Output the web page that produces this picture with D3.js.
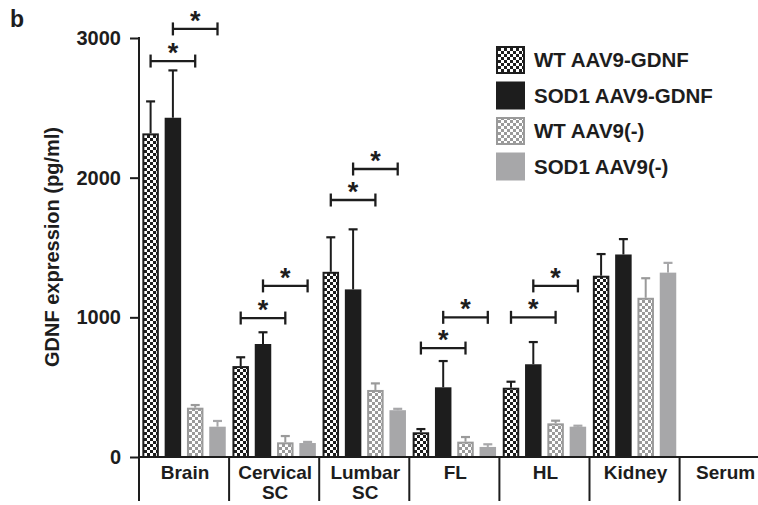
<!DOCTYPE html>
<html>
<head>
<meta charset="utf-8">
<script src="https://cdn.jsdelivr.net/npm/d3@7"></script>
<style>
  html, body { margin: 0; padding: 0; background: #fff; }
  svg { display: block; font-family: "Liberation Sans", Arial, Helvetica, sans-serif; font-weight: bold; }
</style>
</head>
<body>
<div id="chart"></div>
<script>
// ---- data ----
const categories = ["Brain", "Cervical\nSC", "Lumbar\nSC", "FL", "HL", "Kidney", "Serum"];
const seriesNames = ["WT AAV9-GDNF", "SOD1 AAV9-GDNF", "WT AAV9(-)", "SOD1 AAV9(-)"];
const wtGdnf      = [2317,  651, 1326, 177, 496, 1298, 0];
const wtGdnfErr   = [2546,  714, 1573, 200, 539, 1453, 0];
const sodGdnf     = [2429,  809, 1200, 499, 664, 1450, 0];
const sodGdnfErr  = [2768,  893, 1630, 687, 823, 1560, 0];
const wtNone      = [ 353,  105,  480, 110, 241, 1140, 0];
const wtNoneErr   = [ 372,  150,  527, 143, 260, 1280, 0];
const sodNone     = [ 217,  100,  335,  72, 217, 1320, 0];
const sodNoneErr  = [ 258,  108,  345,  91, 224, 1390, 0];
const yTicks = [0, 1000, 2000, 3000];
// significance brackets: category, from series, to series, level (data units)
const sigCategory = ["Brain", "Brain", "Cervical\nSC", "Cervical\nSC", "Lumbar\nSC", "Lumbar\nSC", "FL", "FL", "HL", "HL"];
const sigFrom     = [0, 1, 0, 1, 0, 1, 0, 1, 0, 1];
const sigTo       = [2, 3, 2, 3, 2, 3, 2, 3, 2, 3];
const sigLevel    = [2835, 3065, 995, 1225, 1840, 2062, 780, 1000, 1000, 1225];

const values = [wtGdnf, sodGdnf, wtNone, sodNone];
const errors = [wtGdnfErr, sodGdnfErr, wtNoneErr, sodNoneErr];

// ---- layout ----
const W = 758, H = 505;
const svg = d3.select("#chart").append("svg").attr("width", W).attr("height", H);

const BLACK = "#1d1d1d", GREY = "#a7a7a9", LGREY = "#9a9a9a";

const defs = svg.append("defs");
function checker(id, color) {
  const p = defs.append("pattern").attr("id", id).attr("patternUnits", "userSpaceOnUse")
    .attr("width", 6).attr("height", 6);
  p.append("rect").attr("width", 6).attr("height", 6).attr("fill", "#fff");
  p.append("rect").attr("x", 0).attr("y", 0).attr("width", 3).attr("height", 3).attr("fill", color);
  p.append("rect").attr("x", 3).attr("y", 3).attr("width", 3).attr("height", 3).attr("fill", color);
}
checker("chkBlack", BLACK);
checker("chkGrey", LGREY);

const fills   = ["url(#chkBlack)", BLACK, "url(#chkGrey)", GREY];
const strokes = [BLACK, "none", LGREY, "none"];
const errCol  = [BLACK, BLACK, LGREY, GREY];

const y = d3.scaleLinear().domain([0, 3000]).range([457, 38]);
const x = d3.scaleBand().domain(categories).range([139, 139 + 90.1 * 7]).padding(0);
const xs = d3.scaleBand().domain(d3.range(4)).range([0, x.bandwidth()]).paddingInner(0.26).paddingOuter(0.15);

// bars
const g = svg.append("g");
categories.forEach((c, ci) => {
  for (let s = 0; s < 4; s++) {
    const v = values[s][ci];
    if (!v) continue;
    const bx = x(c) + xs(s), bw = xs.bandwidth();
    const top = y(v);
    const sw = strokes[s] === "none" ? 0 : 2;
    g.append("rect")
      .attr("x", bx + sw / 2).attr("y", top + sw / 2)
      .attr("width", bw - sw).attr("height", y(0) - top - sw / 2)
      .attr("fill", fills[s])
      .attr("stroke", strokes[s]).attr("stroke-width", sw);
    const e = errors[s][ci];
    const cx = bx + bw / 2;
    g.append("line").attr("x1", cx).attr("x2", cx).attr("y1", top).attr("y2", y(e))
      .attr("stroke", errCol[s]).attr("stroke-width", 2);
    g.append("line").attr("x1", cx - 4.5).attr("x2", cx + 4.5).attr("y1", y(e)).attr("y2", y(e))
      .attr("stroke", errCol[s]).attr("stroke-width", 2.2);
  }
});

// y axis
const yAxis = d3.axisLeft(y).tickValues(yTicks).tickFormat(d3.format("d"))
  .tickSize(9).tickSizeOuter(0).tickPadding(9);
const ya = svg.append("g").attr("transform", "translate(139,0)").call(yAxis);
ya.select(".domain").remove();
ya.selectAll(".tick line").attr("stroke", BLACK).attr("stroke-width", 2);
ya.selectAll(".tick text").attr("fill", BLACK).style("font-size", "20px")
  .style("font-family", "'Liberation Sans', Arial, sans-serif").style("font-weight", "bold");
svg.append("line").attr("x1", 139).attr("x2", 139).attr("y1", y(3000) - 1).attr("y2", 501)
  .attr("stroke", BLACK).attr("stroke-width", 2);

// x axis baseline and separators
svg.append("line").attr("x1", 139).attr("x2", W).attr("y1", y(0)).attr("y2", y(0))
  .attr("stroke", BLACK).attr("stroke-width", 2);
categories.forEach(c => {
  svg.append("line").attr("x1", x(c)).attr("x2", x(c)).attr("y1", y(0)).attr("y2", 501)
    .attr("stroke", BLACK).attr("stroke-width", 2);
  const lines = c.split("\n");
  lines.forEach((t, i) => {
    svg.append("text").attr("x", x(c) + x.bandwidth() / 2 + 1).attr("y", 479 + i * 20)
      .attr("text-anchor", "middle").attr("fill", BLACK).style("font-size", "19px").text(t);
  });
});

// significance brackets
sigCategory.forEach((c, i) => {
  const x1 = x(c) + xs(sigFrom[i]) + xs.bandwidth() / 2;
  const x2 = x(c) + xs(sigTo[i]) + xs.bandwidth() / 2;
  const yy = y(sigLevel[i]);
  const bg = svg.append("g").attr("stroke", BLACK).attr("stroke-width", 2.3);
  bg.append("line").attr("x1", x1).attr("x2", x2).attr("y1", yy).attr("y2", yy);
  bg.append("line").attr("x1", x1).attr("x2", x1).attr("y1", yy - 6.5).attr("y2", yy + 6.5);
  bg.append("line").attr("x1", x2).attr("x2", x2).attr("y1", yy - 6.5).attr("y2", yy + 6.5);
  svg.append("text").attr("x", (x1 + x2) / 2).attr("y", yy + 1).attr("text-anchor", "middle")
    .attr("fill", BLACK).style("font-size", "27px").text("*");
});

// y axis title
svg.append("text").attr("transform", "translate(59,247) rotate(-90)")
  .attr("text-anchor", "middle").attr("fill", BLACK).style("font-size", "20px")
  .text("GDNF expression (pg/ml)");

// panel label
svg.append("text").attr("x", 10).attr("y", 26.5).attr("fill", BLACK).style("font-size", "23px").text("b");

// legend
const lg = svg.append("g");
seriesNames.forEach((n, i) => {
  const ly = 46 + i * 35.5;
  const sw = strokes[i] === "none" ? 0 : 2;
  lg.append("rect").attr("x", 496 + sw / 2).attr("y", ly + sw / 2).attr("width", 29 - sw).attr("height", 28 - sw)
    .attr("fill", fills[i]).attr("stroke", strokes[i]).attr("stroke-width", sw);
  lg.append("text").attr("x", 534).attr("y", ly + 21).attr("fill", BLACK)
    .style("font-size", "20.5px").text(n);
});
</script>
</body>
</html>
